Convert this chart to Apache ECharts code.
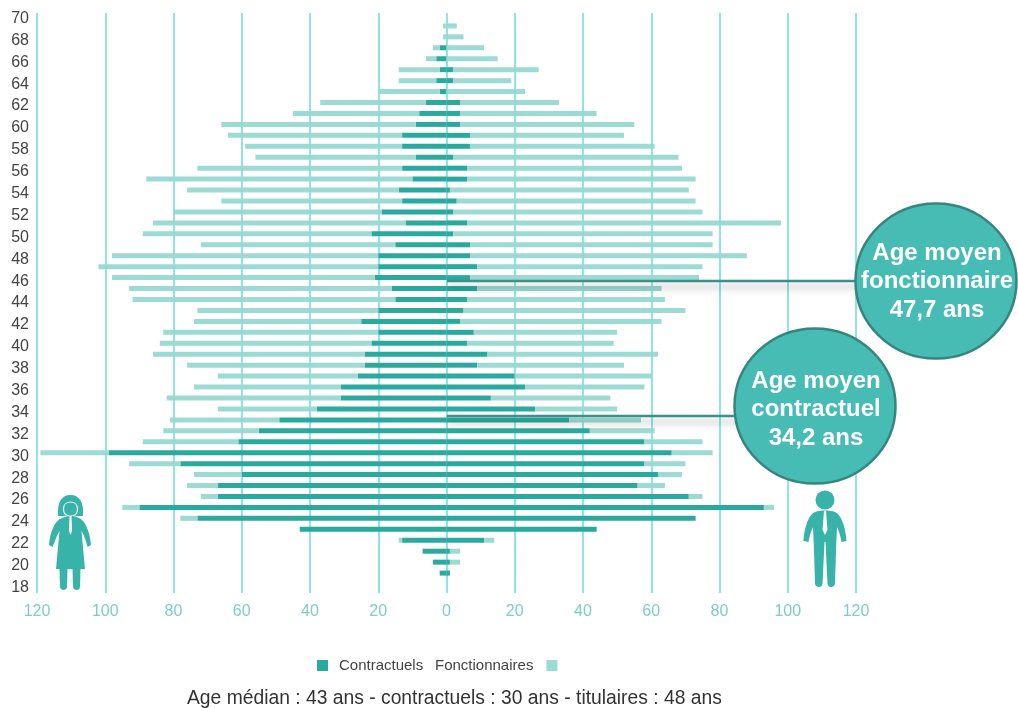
<!DOCTYPE html>
<html>
<head>
<meta charset="utf-8">
<title>Pyramide des âges</title>
<script src="https://cdn.jsdelivr.net/npm/echarts@6/dist/echarts.min.js"></script>
<style>
html,body{margin:0;padding:0;background:#fff}
#chart{width:1018px;height:708px}
</style>
</head>
<body>
<div id="chart"></div>
<script>
// Ages, top row first
const ages = [70,69,68,67,66,65,64,63,62,61,60,59,58,57,56,55,54,53,52,51,50,49,48,47,46,45,44,43,42,41,40,39,38,37,36,35,34,33,32,31,30,29,28,27,26,25,24,23,22,21,20,19,18];

// Women (left wing)
const femmesContractuels = [0,0,0,2,3,2,3,2,6,8,9,13,13,9,13,10,14,13,19,12,22,15,20,20,21,16,15,20,25,20,22,24,24,26,31,31,38,49,55,61,99,78,60,67,67,90,73,43,13,7,4,2,0];
const femmesFonctionnaires = [0,1,1,2,3,12,11,18,31,37,57,51,46,47,60,78,62,53,61,74,67,57,78,82,77,77,77,53,49,63,62,62,52,41,43,51,29,32,28,28,20,15,14,9,5,5,5,0,1,0,0,0,0];

// Men (right wing)
const hommesContractuels = [0,0,0,0,0,2,2,0,4,4,4,7,7,2,6,6,1,3,2,6,2,7,7,9,7,9,6,5,4,8,6,12,9,20,23,13,26,36,42,58,66,58,62,56,71,93,73,44,11,1,1,1,0];
const hommesFonctionnaires = [0,3,5,11,15,25,17,23,29,40,51,45,54,66,63,67,70,70,73,92,76,71,81,66,67,54,58,65,59,42,43,50,43,40,35,35,24,21,19,17,12,12,7,8,4,3,0,0,3,3,3,0,0];

const xTicks = { min: -120, max: 120, step: 20 };
const seriesNames = ['Contractuels', 'Fonctionnaires'];
const moyennes = [
  { lines: ['Age moyen', 'fonctionnaire', '47,7 ans'], cx: 936, cy: 281, lineY: 281, textY: [253, 281, 310] },
  { lines: ['Age moyen', 'contractuel', '34,2 ans'], cx: 815, cy: 406, lineY: 416, textY: [381, 409, 438] }
];
const noteMediane = 'Age médian : 43 ans - contractuels : 30 ans - titulaires : 48 ans';

const DARK = '#2aaa9e', LIGHT = '#97d8d2', GRID = '#8fe5e2', TEAL = '#47bcb5', ICON = '#38b3a9';
const FONT = '"Liberation Sans", Arial, sans-serif';
const gridBox = { left: 37, width: 819, top: 13, height: 580 };

const chart = echarts.init(document.getElementById('chart'), null, { renderer: 'canvas' });

const barSeries = (name, color, values, sign) => ({
  name, type: 'bar', stack: 'pyramide', xAxisIndex: 1, yAxisIndex: 1,
  barWidth: 5, itemStyle: { color, opacity: color === LIGHT ? 0.95 : 1 },
  silent: true, animation: false,
  data: values.map(v => v * sign)
});

// Leader lines and circles carrying the mean ages
const calloutGraphics = [];
moyennes.forEach(m => {
  calloutGraphics.push({
    type: 'line', z: 50,
    shape: { x1: 447, y1: m.lineY, x2: m.cx - 70, y2: m.lineY },
    style: { stroke: '#3b918b', lineWidth: 2.5, shadowBlur: 7, shadowOffsetY: 6, shadowColor: 'rgba(0,0,0,0.3)' }
  });
  calloutGraphics.push({
    type: 'ellipse', z: 51,
    shape: { cx: m.cx, cy: m.cy, rx: 80.5, ry: 77.5 },
    style: { fill: TEAL, stroke: '#36857f', lineWidth: 2.5 }
  });
  m.lines.forEach((t, i) => calloutGraphics.push({
    type: 'text', z: 52, x: m.cx + 1, y: m.textY[i],
    style: { text: t, fill: '#fff', font: 'bold 24px ' + FONT, align: 'center', verticalAlign: 'middle' }
  }));
});

// Woman and man pictograms
const pictograms = [
  { d: 'M58 516 C57 503 61 495 70.5 495 C80 495 84 503 83 516 Z', fill: ICON },
  { d: 'M63.5 509 C63.5 504 67 502 70.5 502 C74 502 77.5 504 77.5 509 C77.5 514 75 516 70.5 516 C66 516 63.5 514 63.5 509 Z', fill: ICON, stroke: '#e6f6f4', lineWidth: 1.2 },
  { d: 'M62 518 C70 515 72 515 79 518 C85 520 90 532 91 545 L87.5 547 C86 541 84 535 81.5 531 L85 569 L80.5 569 L80 587 C79.5 591 73.5 591 73 587 L72.5 569 L67.5 569 L67 587 C66.5 591 60.5 591 60 587 L59.5 569 L56 569 L59.5 531 C57 535 55 541 52.5 547 L49 545 C50 532 55 520 62 518 Z', fill: ICON },
  { d: 'M69.5 516 L71.5 516 L72 531 L70.5 535 L69 531 Z', fill: '#fff' },
  { d: 'M815.5 500 A9.5 9.5 0 1 1 834.5 500 A9.5 9.5 0 1 1 815.5 500 Z', fill: ICON },
  { d: 'M815 512 C820 510 830 510 835 512 C842 515 846 530 846.5 541 L841.5 542 C840.5 536 839 531 837 527 L836 550 L835 584 C834 588 828 588 827.5 584 L825.5 542 L824.5 542 L822.5 584 C822 588 816 588 815 584 L814 550 L813 527 C811 531 809.5 536 808.5 542 L803.5 541 C804 530 808 515 815 512 Z', fill: ICON },
  { d: 'M824 511 L826 511 L827.5 530 L825 535 L822.5 530 Z', fill: '#fff' }
];

const pictogramSeries = {
  type: 'custom', coordinateSystem: 'none', data: [[0]], silent: true, z: 20,
  renderItem: () => ({
    type: 'group',
    children: pictograms.map(p => ({
      type: 'path', shape: { pathData: p.d },
      style: { fill: p.fill, stroke: p.stroke || null, lineWidth: p.lineWidth || 0 }
    }))
  })
};

const option = {
  animation: false,
  backgroundColor: '#fff',
  // First grid holds the axes, second carries the bars just above each age label
  grid: [
    { left: gridBox.left, width: gridBox.width, top: gridBox.top, height: gridBox.height, containLabel: false },
    { left: gridBox.left, width: gridBox.width, top: gridBox.top - 3.5, height: gridBox.height, containLabel: false }
  ],
  xAxis: [
    {
      type: 'value', gridIndex: 0, min: xTicks.min, max: xTicks.max, interval: xTicks.step,
      axisLine: { show: false }, axisTick: { show: false },
      splitLine: { show: true, lineStyle: { color: GRID, width: 2 } },
      axisLabel: { color: '#7ccfc6', fontSize: 16, margin: 11, fontFamily: FONT, formatter: v => Math.abs(v) }
    },
    { type: 'value', gridIndex: 1, min: xTicks.min, max: xTicks.max, interval: xTicks.step, show: false }
  ],
  yAxis: [
    {
      type: 'category', gridIndex: 0, inverse: true, data: ages,
      axisLine: { show: false }, axisTick: { show: false },
      axisLabel: { interval: 1, color: '#444', fontSize: 16, margin: 8, fontFamily: FONT }
    },
    { type: 'category', gridIndex: 1, inverse: true, data: ages, show: false }
  ],
  legend: [
    {
      data: [seriesNames[0]], left: 312, top: 653, align: 'left', icon: 'rect', itemWidth: 11, itemHeight: 11, itemGap: 0,
      selectedMode: false, textStyle: { color: '#444', fontSize: 15, padding: [0, 0, 0, 6], fontFamily: FONT }
    },
    {
      data: [seriesNames[1]], left: 430, top: 653, align: 'right', icon: 'rect', itemWidth: 11, itemHeight: 11, itemGap: 0,
      selectedMode: false, textStyle: { color: '#444', fontSize: 15, padding: [0, 8, 0, 0], fontFamily: FONT }
    }
  ],
  title: {
    text: noteMediane, left: 182, top: 684,
    textStyle: { color: '#333', fontSize: 19.3, fontWeight: 'normal', fontFamily: FONT }
  },
  series: [
    barSeries(seriesNames[0], DARK, femmesContractuels, -1),
    barSeries(seriesNames[1], LIGHT, femmesFonctionnaires, -1),
    barSeries(seriesNames[0], DARK, hommesContractuels, 1),
    barSeries(seriesNames[1], LIGHT, hommesFonctionnaires, 1),
    pictogramSeries
  ],
  graphic: calloutGraphics
};

chart.setOption(option);
</script>
</body>
</html>
